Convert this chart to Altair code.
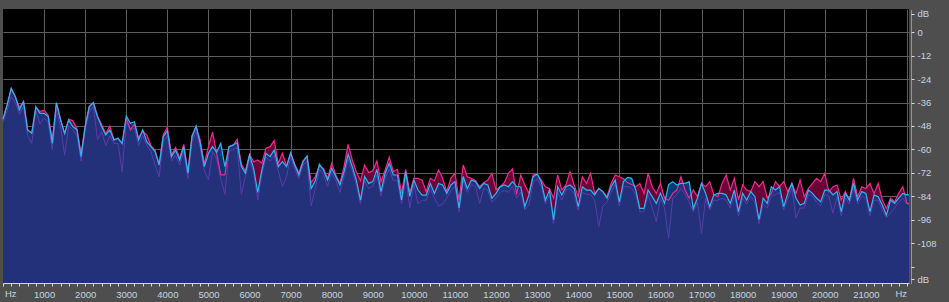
import altair as alt
import pandas as pd

# Frequency grid (Hz) of the spectrum samples
HZ = list(range(0, 22001, 100)) + [22050]

# Cyan trace (dB)
CYAN = [
    -44.6, -37.2, -28.7, -33, -39.8, -35.5, -50, -51.7, -38.1, -41.5,
    -41.5, -43.2, -56.9, -36, -44.9, -51.8, -44.9, -48.3, -50, -63.7,
    -48.3, -38.1, -36, -43.2, -48.3, -52.6, -50, -55.2, -54.3, -56.9,
    -42.9, -46.6, -45.8, -55.2, -50, -56, -58.6, -61, -68, -53.5,
    -50.4, -63.7, -60.3, -65.4, -58.6, -72.2, -53.5, -48, -56.9, -68.8,
    -62, -58.6, -61.5, -56.9, -68.8, -58.6, -57.7, -56.5, -68.8, -72.2,
    -62.9, -69.7, -82, -70.5, -62, -63.7, -60.3, -68.8, -66.3, -68.8,
    -61.7, -68, -73.1, -66.3, -63.4, -80, -76, -67.6, -70.5, -75.7,
    -69.7, -73.9, -78.2, -71.4, -62.5, -68.8, -75.7, -86, -73.9, -77.4,
    -76.5, -70.2, -81.6, -72.2, -67.1, -73.1, -73.1, -85.9, -71.4, -84,
    -75.7, -80.8, -83.4, -83.4, -77.4, -82.5, -77.4, -78.2, -82.5, -78.2,
    -76.5, -90, -73.9, -80, -75.7, -76.5, -80, -77.4, -78.2, -85,
    -82.5, -79.1, -78.2, -79.1, -76.5, -79, -79.1, -89.3, -83.3, -74,
    -72.6, -76.5, -86, -80.8, -96, -79.1, -83.3, -79.1, -78.2, -80,
    -89.3, -79.1, -80.8, -80.8, -83.3, -80, -81.6, -85, -79.1, -75.7,
    -86.8, -76.5, -74.3, -74.8, -80.8, -90.2, -90.2, -80.8, -84.2, -87.6,
    -82.5, -87.6, -78, -76.5, -78.2, -77.4, -77.4, -76.5, -90.2, -85,
    -77.4, -82.5, -89.3, -83.3, -82.5, -82.5, -83.3, -87.6, -80.8, -91.9,
    -82.5, -85.9, -81.6, -84.2, -96, -85, -87.6, -79.1, -80.8, -79.1,
    -89.3, -82.5, -77.4, -85, -88.5, -87.6, -80.8, -82.5, -85, -86.8,
    -80.8, -80.8, -83.3, -81.6, -91.9, -82.5, -85.9, -77.4, -85.9, -81.6,
    -82.5, -91.9, -83.3, -84.2, -88.5, -93.6, -85.9, -87.6, -85, -82.5,
    -83.3, -83.3,
]

# Magenta trace (dB)
MAGENTA = [
    -44.2, -37.2, -29, -33, -38.5, -35.5, -50, -51.7, -38.5, -40.5,
    -40, -42.5, -55, -36.5, -44.5, -51.8, -44.5, -45.3, -49.5, -62,
    -48, -38.1, -36, -43, -47.2, -52, -48, -55, -54.3, -57,
    -44, -50, -47, -54, -50.5, -52.6, -58, -60.5, -67.5, -52.5,
    -48.7, -62.8, -59, -64.5, -57.4, -71.5, -53, -48.5, -55.2, -67.5,
    -58.6, -51.2, -62, -73, -73, -58.6, -58, -54.8, -67.5, -71,
    -62.5, -66.3, -65.4, -67.1, -59.4, -58.6, -55.5, -67.1, -62, -68.5,
    -62, -67.5, -72, -66, -63.4, -77, -74, -68.5, -69.7, -74.8,
    -67.1, -73.1, -77.4, -68.8, -57.4, -65.4, -71.4, -76, -68, -71.9,
    -70.9, -65.9, -76.5, -70.5, -64, -71.4, -70.2, -82.5, -70.2, -82,
    -74.8, -74.8, -75.7, -81.6, -74.8, -76, -70.5, -74.8, -81.6, -74.8,
    -72.2, -85.9, -68, -74, -74.8, -76, -79.1, -77, -75.7, -72.2,
    -80.8, -79.1, -77, -72.2, -70, -83, -73.1, -78.2, -82.5, -73.1,
    -72.8, -75.7, -79.1, -80, -85, -73.1, -80.8, -78.2, -71.4, -78.2,
    -84.2, -74, -77.4, -72.2, -82.5, -80, -81.6, -84.2, -77.4, -73.1,
    -74, -75, -77, -78, -79.1, -77.4, -82.5, -72.3, -79.1, -82.5,
    -77.4, -85, -86, -82.5, -80.8, -74, -80.8, -85, -80.8, -84.2,
    -77.4, -79.1, -76.5, -83.3, -84.2, -77.4, -73.1, -80.8, -74.8, -85.9,
    -78.2, -80.8, -81.6, -76.5, -79.1, -76.5, -85, -82.5, -76.5, -79.1,
    -76.5, -81.6, -77.4, -82.5, -75.7, -84.2, -80, -77.4, -74.8, -76.5,
    -72.3, -81.6, -79.1, -78.2, -85.9, -81.6, -85.9, -74.8, -84.2, -79.1,
    -80, -77.4, -82.5, -77.4, -85.9, -90.2, -85, -86.8, -82.5, -79.1,
    -87.6, -87.6,
]

# Purple trace (dB)
PURPLE = [
    -46, -40, -33, -36, -42, -38, -53, -57, -40, -47,
    -44, -46, -60, -40, -48, -63, -48, -50, -53, -66,
    -50, -41, -38, -55, -51, -58, -53, -57, -57, -71.5,
    -46, -50, -49, -58, -53, -58, -61, -68, -74, -56,
    -53, -66, -63, -68, -61, -75, -56, -51, -59, -71,
    -75.7, -61, -65, -75, -83, -61, -60, -59, -83, -74,
    -65, -72, -86, -73, -64, -66, -63, -71, -79, -74,
    -64, -70, -75, -68, -66, -89, -80, -70, -73, -79,
    -72, -76, -82, -74, -65, -71, -78, -88, -76, -80,
    -79, -73, -84, -75, -70, -76, -76, -88, -74, -90,
    -78, -88, -86, -86, -80, -85, -89, -88, -85, -81,
    -79, -92, -76, -82, -78, -79, -87.6, -80, -81, -87,
    -85, -82, -81, -82, -79, -85, -82, -91, -88.5, -77,
    -75, -79, -88, -83, -98, -82, -86, -81, -80, -83,
    -91, -82, -83, -83, -86, -99.6, -89, -87, -82, -78,
    -89, -79, -79, -80, -83, -92, -92, -83, -90, -97,
    -85, -90, -105.5, -85, -83, -80, -83, -87, -92, -87,
    -103, -85, -91, -86, -86, -85, -86, -90, -83, -94,
    -85, -88, -84, -87, -98, -88, -90, -84, -83, -82,
    -91, -85, -80, -95.3, -90, -90, -83, -84, -87, -89,
    -83, -84, -92.7, -84, -94, -85, -88, -80, -88, -84,
    -85, -94, -86, -86, -91, -95, -92.7, -90, -87, -85,
    -88, -88,
]

# Axis ticks / labels
X_TICKS = list(range(0, 22001, 200))
Y_TICKS = [9.4, 0, -12, -24, -36, -48, -60, -72, -84, -96, -108, -120, -126.4]
HZ_LEFT = [{"hz": 0, "db": -133.8, "t": "Hz"}]
HZ_RIGHT = [{"hz": 22050, "db": -133.8, "t": "Hz"}]

Y_MIN, Y_MAX = -128.4, 11.9
X_MAX = 22050

LABEL_COLOR = "#c4d4e4"
FONT = "Liberation Sans"

df = pd.DataFrame({"hz": HZ, "c": CYAN, "m": MAGENTA, "p": PURPLE})

xs = alt.Scale(domain=[0, X_MAX], nice=False, zero=False)
ys = alt.Scale(domain=[Y_MIN, Y_MAX], nice=False, zero=False)

x_axis = alt.Axis(
    values=X_TICKS, title=None, orient="bottom",
    grid=True, gridColor="#5e5e5e", gridWidth=1,
    gridOpacity={"condition": {"test": "datum.value % 1000 == 0 && datum.value > 0", "value": 1}, "value": 0},
    domain=True, domainColor="#d8d8d8", domainWidth=1,
    ticks=True, tickColor="#d8d8d8", tickSize=3, tickWidth=1,
    labelExpr="datum.value % 1000 == 0 && datum.value > 0 && datum.value < 22000 ? '' + datum.value : ''",
    labelColor=LABEL_COLOR, labelFont=FONT, labelFontSize=9.5,
    labelPadding=3, labelOverlap=False, labelFlush=False, labelBound=False,
)
y_axis = alt.Axis(
    values=Y_TICKS, title=None, orient="right", offset=2,
    grid=True, gridColor="#5e5e5e", gridWidth=1,
    gridOpacity={"condition": {"test": "datum.value <= 0 && datum.value >= -108", "value": 1}, "value": 0},
    domain=True, domainColor="#dcdcdc", domainDash=[1, 1], domainWidth=1,
    ticks=True, tickColor="#dcdcdc", tickSize=3, tickWidth=1,
    labelExpr="datum.value > 5 || datum.value < -125 ? 'dB' : (datum.value == -120 ? '' : '' + datum.value)",
    labelColor=LABEL_COLOR, labelFont=FONT, labelFontSize=9.5,
    labelPadding=3, labelAlign="left", labelBaseline="middle",
    labelOverlap=False, labelFlush=False, labelBound=False,
)


def X(f):
    return alt.X(f, type="quantitative", scale=xs, axis=x_axis)


def Y(f):
    return alt.Y(f, type="quantitative", scale=ys, axis=y_axis)


base = alt.Chart(df)

maroon = base.mark_area(color="#6a0636", interpolate="linear").encode(
    x=X("hz"), y=Y("m"), y2=alt.datum(Y_MIN))
darkblue = base.mark_area(color="#07377a", interpolate="linear").encode(
    x=X("hz"), y=Y("c"), y2=alt.datum(Y_MIN))
navy = base.transform_calculate(lo="min(datum.c, datum.m)").mark_area(
    color="#23307a", interpolate="linear").encode(
    x=X("hz"), y=Y("lo"), y2=alt.datum(Y_MIN))
purple = base.mark_line(color="#5b3ca8", strokeWidth=1).encode(x=X("hz"), y=Y("p"))
magenta = base.mark_line(color="#f02a8e", strokeWidth=1.2).encode(x=X("hz"), y=Y("m"))
cyan = base.mark_line(color="#2cb6f2", strokeWidth=1.2).encode(x=X("hz"), y=Y("c"))

hz_l = alt.Chart(pd.DataFrame(HZ_LEFT)).mark_text(
    align="left", baseline="middle", dx=2, color=LABEL_COLOR, font=FONT, fontSize=9.5
).encode(x=X("hz"), y=Y("db"), text="t:N")
hz_r = alt.Chart(pd.DataFrame(HZ_RIGHT)).mark_text(
    align="right", baseline="middle", dx=-2, color=LABEL_COLOR, font=FONT, fontSize=9.5
).encode(x=X("hz"), y=Y("db"), text="t:N")

chart = alt.layer(maroon, darkblue, navy, purple, magenta, cyan, hz_l, hz_r).properties(
    width=906, height=274,
    autosize=alt.AutoSizeParams(type="none"),
    padding={"left": 3, "top": 9, "right": 40, "bottom": 19},
    background="#4e4e4e",
).configure_view(fill="#000000", strokeWidth=0)

chart.save("out.html", embed_options={"renderer": "svg", "actions": False})
